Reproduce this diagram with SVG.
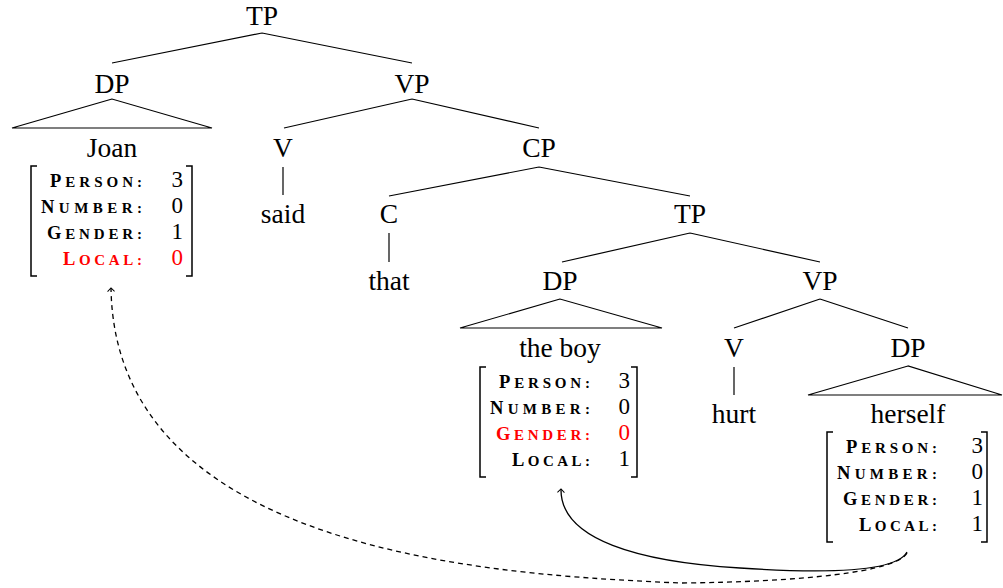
<svg xmlns="http://www.w3.org/2000/svg" width="1003" height="588" viewBox="0 0 1003 588">
<style>
.t{font-family:"Liberation Serif",serif;font-size:27.5px;fill:#000;text-anchor:middle}
.lab{font-family:"Liberation Serif",serif;font-size:15px;font-weight:bold;fill:#000;text-anchor:end}
.cap{font-size:18.5px}
.val{font-family:"Liberation Serif",serif;font-size:23px;fill:#000;text-anchor:end}
.red{fill:#ff0000}
.ln{stroke:#000;stroke-width:1.2;fill:none}
.br{stroke:#000;stroke-width:1.5;fill:none}
.arr{stroke:#000;stroke-width:1.3;fill:none}
</style>
<defs>
<marker id="hd" markerUnits="userSpaceOnUse" markerWidth="12" markerHeight="12" refX="0" refY="0" viewBox="-6 -6 12 12" orient="auto" overflow="visible">
<path d="M-3.5,-3.5 L0,0 L-3.5,3.5" fill="none" stroke="#000" stroke-width="1"/>
</marker>
</defs>
<g id="tree-lines">
<path class="ln" d="M262,33 L112,63 M262,33 L412,63"/>
<path class="ln" d="M412,99 L284,128 M412,99 L539,128"/>
<path class="ln" d="M283,167 L283,195"/>
<path class="ln" d="M539,167 L389,196 M539,167 L690,196"/>
<path class="ln" d="M389,233 L389,262"/>
<path class="ln" d="M690,233 L562,262 M690,233 L820,262"/>
<path class="ln" d="M820,299 L734,328 M820,299 L908,328"/>
<path class="ln" d="M734,367 L734,395"/>
</g>
<g id="n-tp1"><text class="t" x="262" y="25">TP</text></g>
<g id="n-dp1"><text class="t" x="112" y="93">DP</text><polygon class="ln" points="112,99 12,128 212,128"/></g>
<g id="n-vp1"><text class="t" x="412" y="93">VP</text></g>
<g id="n-joan">
<text class="t" x="112" y="157">Joan</text>
<path class="br" d="M37,166 L31,166 L31,276 L37,276 M186,166 L192,166 L192,276 L186,276"/>
<text class="lab" x="142" y="187" textLength="92" lengthAdjust="spacing"><tspan class="cap">P</tspan>ERSON:</text>
<text class="lab" x="142" y="213" textLength="101" lengthAdjust="spacing"><tspan class="cap">N</tspan>UMBER:</text>
<text class="lab" x="142" y="239" textLength="95" lengthAdjust="spacing"><tspan class="cap">G</tspan>ENDER:</text>
<text class="lab red" x="142" y="265" textLength="79" lengthAdjust="spacing"><tspan class="cap">L</tspan>OCAL:</text>
<text class="val" x="183" y="187">3</text>
<text class="val" x="183" y="213">0</text>
<text class="val" x="183" y="239">1</text>
<text class="val red" x="183" y="265">0</text>
</g>
<g id="n-v1"><text class="t" x="283" y="157">V</text></g>
<g id="n-said"><text class="t" x="283" y="223">said</text></g>
<g id="n-cp"><text class="t" x="539" y="157">CP</text></g>
<g id="n-c"><text class="t" x="389" y="223">C</text></g>
<g id="n-that"><text class="t" x="389" y="290">that</text></g>
<g id="n-tp2"><text class="t" x="690" y="223">TP</text></g>
<g id="n-dp2"><text class="t" x="560" y="290">DP</text><polygon class="ln" points="560,299 460,328 662,328"/></g>
<g id="n-boy">
<text class="t" x="560" y="357">the boy</text>
<path class="br" d="M486,367 L480,367 L480,477 L486,477 M631,367 L637,367 L637,477 L631,477"/>
<text class="lab" x="590" y="388" textLength="91" lengthAdjust="spacing"><tspan class="cap">P</tspan>ERSON:</text>
<text class="lab" x="590" y="414" textLength="100" lengthAdjust="spacing"><tspan class="cap">N</tspan>UMBER:</text>
<text class="lab red" x="590" y="440" textLength="94" lengthAdjust="spacing"><tspan class="cap">G</tspan>ENDER:</text>
<text class="lab" x="590" y="466" textLength="78" lengthAdjust="spacing"><tspan class="cap">L</tspan>OCAL:</text>
<text class="val" x="630" y="388">3</text>
<text class="val" x="630" y="414">0</text>
<text class="val red" x="630" y="440">0</text>
<text class="val" x="630" y="466">1</text>
</g>
<g id="n-vp2"><text class="t" x="820" y="290">VP</text></g>
<g id="n-v2"><text class="t" x="734" y="357">V</text></g>
<g id="n-hurt"><text class="t" x="734" y="423">hurt</text></g>
<g id="n-dp3"><text class="t" x="908" y="357">DP</text><polygon class="ln" points="908,366 808,395 1002,395"/></g>
<g id="n-herself">
<text class="t" x="908" y="423">herself</text>
<path class="br" d="M833,432 L827,432 L827,542 L833,542 M981,432 L987,432 L987,542 L981,542"/>
<text class="lab" x="937" y="453" textLength="91" lengthAdjust="spacing"><tspan class="cap">P</tspan>ERSON:</text>
<text class="lab" x="937" y="479" textLength="100" lengthAdjust="spacing"><tspan class="cap">N</tspan>UMBER:</text>
<text class="lab" x="937" y="505" textLength="94" lengthAdjust="spacing"><tspan class="cap">G</tspan>ENDER:</text>
<text class="lab" x="937" y="531" textLength="78" lengthAdjust="spacing"><tspan class="cap">L</tspan>OCAL:</text>
<text class="val" x="983" y="453">3</text>
<text class="val" x="983" y="479">0</text>
<text class="val" x="983" y="505">1</text>
<text class="val" x="983" y="531">1</text>
</g>
<g id="connectors">
<path class="arr" stroke-dasharray="5 4" d="M907,553 C897,572 800,582 680,583 C500,575 115,555 111,288" marker-end="url(#hd)"/>
<path class="arr" d="M907,552 C895,575 800,572 740,568 C640,562 560,540 561,489" marker-end="url(#hd)"/>
</g>
</svg>
